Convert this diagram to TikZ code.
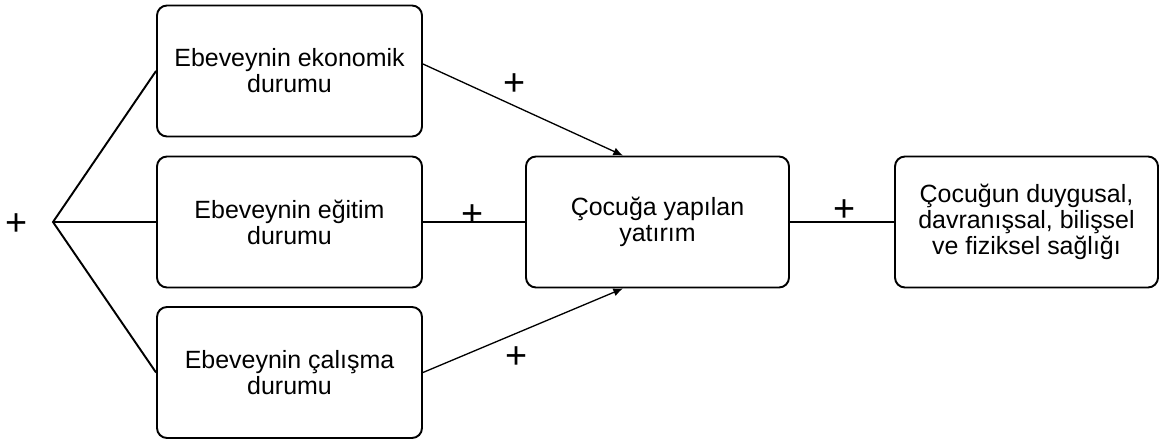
\documentclass[tikz,border=0pt]{standalone}
\usepackage{fontspec}
\setmainfont{Liberation Sans}
\usepackage{tikz}
\usetikzlibrary{positioning, arrows.meta}

\begin{document}
\begin{tikzpicture}[auto, semithick, scale = 1.0,
            kutu/.style ={rectangle, rounded corners=0.2cm, draw, line width=1.1pt,
            minimum width=5.3cm, minimum height=2.62cm, align=center, inner sep=0pt,
            font=\fontsize{14.2}{14.8}\selectfont},
            arti/.style ={inner sep=0pt, font=\fontsize{21.5}{22}\selectfont},
            kalin/.style ={line width=1.1pt},
            ok/.style ={-{Latex[length=5.5pt, width=4.6pt]}, line width=0.75pt}]

        \useasboundingbox (0,0) rectangle (23.3,-8.86);

        %kutular
        \node[kutu] (e1) at (5.79, -1.42) {Ebeveynin ekonomik\\durumu};
        \node[kutu] (e2) at (5.79, -4.44) {Ebeveynin eğitim\\durumu};
        \node[kutu] (e3) at (5.79, -7.45) {Ebeveynin çalışma\\durumu};
        \node[kutu, minimum width=5.26cm] (cy) at (13.15, -4.44) {Çocuğa yapılan\\yatırım};
        \node[kutu, minimum width=5.26cm] (sg) at (20.53, -4.44) {Çocuğun duygusal,\\davranışsal, bilişsel\\ve fiziksel sağlığı};

        \coordinate (t) at (1.06, -4.44);
        \node[arti] (p0) at (0.34, -4.50) {+};

        \draw[kalin] (e1.west) -- (t) -- (e3.west);
        \draw[kalin] (t) -- (e2.west);

        \path (e2.east) edge [kalin] node[arti, pos = 0.49, yshift = -0.1cm] {+} (cy.west);
        \path ([yshift=0.14cm]e1.east) edge [ok] node[arti, pos = 0.46, above = 0.2 cm] {+} ([xshift=-0.69cm]cy.north);
        \path (e3.east) edge [ok] node[arti, pos = 0.47, below = 0.26 cm] {+} ([xshift=-0.69cm]cy.south);
        \path (cy.east) edge [kalin] node[arti, pos = 0.52, yshift = 0.0cm] {+} (sg.west);
    \end{tikzpicture}
\end{document}
